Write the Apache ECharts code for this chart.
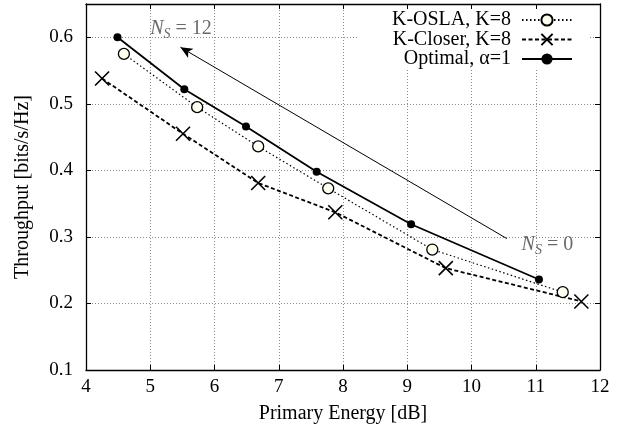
<!DOCTYPE html>
<html>
<head>
<meta charset="utf-8">
<script src="https://cdn.jsdelivr.net/npm/echarts@6/dist/echarts.min.js"></script>
<style>html,body{margin:0;padding:0;background:#fff}#c{width:630px;height:435px}</style>
</head>
<body>
<div id="c"></div>
<script>
// ---- data ----
const seriesNames = ['K-OSLA, K=8', 'K-Closer, K=8', 'Optimal, \u03b1=1'];
const oslaX = [4.59, 5.73, 6.68, 7.77, 9.39, 11.42];
const oslaY = [0.575, 0.495, 0.436, 0.373, 0.281, 0.217];
const closerX = [4.25, 5.51, 6.68, 7.88, 9.60, 11.71];
const closerY = [0.538, 0.455, 0.381, 0.337, 0.253, 0.203];
const optX = [4.49, 5.53, 6.49, 7.59, 9.06, 11.05];
const optY = [0.600, 0.522, 0.466, 0.398, 0.319, 0.236];
const xTicks = [4, 5, 6, 7, 8, 9, 10, 11, 12];
const yTicks = [0.1, 0.2, 0.3, 0.4, 0.5, 0.6];
const arrowFrom = [10.55, 0.2975];
const arrowTo = [5.47, 0.585];
const noteNs12 = [5.0, 0.6125];
const noteNs0 = [10.78, 0.2875];

const zip = (xs, ys) => xs.map((x, i) => [x, ys[i]]);
const FONT = 'Liberation Serif';
const gridLine = {show: true, lineStyle: {color: '#8a8a8a', width: 1, type: [1, 2]}};
const frame = {show: true, lineStyle: {color: '#000', width: 1.3}};
const tick = {show: true, inside: true, length: 5, lineStyle: {color: '#000', width: 1}};
const crossPath = 'path://M0,0L10,10M10,0L0,10';
const richNs = {
  n: {fontFamily: FONT, fontStyle: 'italic', fontSize: 20, color: '#444'},
  s: {fontFamily: FONT, fontStyle: 'italic', fontSize: 14, color: '#444', padding: [10, 0, 0, 0]},
  t: {fontFamily: FONT, fontSize: 20, color: '#444'}
};

const chart = echarts.init(document.getElementById('c'), null, {renderer: 'canvas'});
const legendBase = {
  orient: 'horizontal', align: 'right', padding: 0, itemWidth: 50, itemHeight: 14,
  textStyle: {fontFamily: FONT, fontSize: 20, color: '#000', padding: [0, 6, 0, 0]},
  selectedMode: false, right: 57
};
chart.setOption({
  animation: false,
  backgroundColor: '#fff',
  textStyle: {fontFamily: FONT, color: '#000'},
  grid: {left: 86, right: 30, top: 4, bottom: 65, containLabel: false},
  graphic: [{type: 'rect', left: 357, top: 9, shape: {width: 233, height: 60}, style: {fill: '#fff'}, z: 1}],
  legend: seriesNames.map((n, i) => Object.assign({}, legendBase, {data: [n], top: [10, 29.5, 49][i]})),
  xAxis: [{
    type: 'value', min: xTicks[0], max: xTicks[xTicks.length - 1], interval: 1,
    name: 'Primary Energy [dB]', nameLocation: 'middle', nameGap: 34,
    nameTextStyle: {fontFamily: FONT, fontSize: 20, color: '#000'},
    axisLine: frame, axisTick: tick, splitLine: gridLine,
    axisLabel: {fontFamily: FONT, fontSize: 19, color: '#000', margin: 8,
      textStyle: {fontFamily: FONT}}
  }, {
    type: 'value', position: 'top', min: xTicks[0], max: xTicks[xTicks.length - 1], interval: 1,
    axisLine: frame, axisTick: tick, splitLine: {show: false}, axisLabel: {show: false}
  }],
  yAxis: [{
    type: 'value', min: yTicks[0], max: 0.65, interval: 0.1,
    name: 'Throughput [bits/s/Hz]', nameLocation: 'middle', nameGap: 53,
    nameTextStyle: {fontFamily: FONT, fontSize: 20, color: '#000'},
    axisLine: frame, axisTick: tick, splitLine: gridLine,
    axisLabel: {fontFamily: FONT, fontSize: 19, color: '#000', margin: 13,
      formatter: v => (Math.abs(v - 0.65) < 1e-6 ? '' : v.toFixed(1))}
  }, {
    type: 'value', position: 'right', min: yTicks[0], max: 0.65, interval: 0.1,
    axisLine: frame, axisTick: tick, splitLine: {show: false}, axisLabel: {show: false}
  }],
  series: [{
    name: seriesNames[0], type: 'line', data: zip(oslaX, oslaY), z: 3,
    symbol: 'circle', symbolSize: 11,
    lineStyle: {color: '#000', width: 1.2, type: [1.5, 2.5]},
    itemStyle: {color: '#fffff0', borderColor: '#000', borderWidth: 1.3}
  }, {
    name: seriesNames[1], type: 'line', data: zip(closerX, closerY), z: 3,
    symbol: crossPath, symbolSize: 14,
    lineStyle: {color: '#000', width: 1.8, type: [4, 2.5]},
    itemStyle: {color: '#000', borderColor: '#000', borderWidth: 1.6}
  }, {
    name: seriesNames[2], type: 'line', data: zip(optX, optY), z: 3,
    symbol: 'circle', symbolSize: 8,
    lineStyle: {color: '#000', width: 1.8, type: 'solid'},
    itemStyle: {color: '#000', borderColor: '#000', borderWidth: 0},
    markLine: {
      silent: true, symbol: ['none', 'arrow'], symbolSize: [8, 12],
      label: {show: false},
      lineStyle: {color: '#000', width: 1, type: 'solid'},
      data: [[{coord: arrowFrom}, {coord: arrowTo}]]
    }
  }, {
    name: 'notes', type: 'scatter', symbolSize: 0, silent: true, z: 4,
    data: [
      {value: noteNs12, label: {formatter: '{n|N}{s|S}{t| = 12}'}},
      {value: noteNs0, label: {formatter: '{n|N}{s|S}{t| = 0}'}}
    ],
    label: {show: true, position: 'right', distance: 0, rich: richNs}
  }]
});
</script>
</body>
</html>
